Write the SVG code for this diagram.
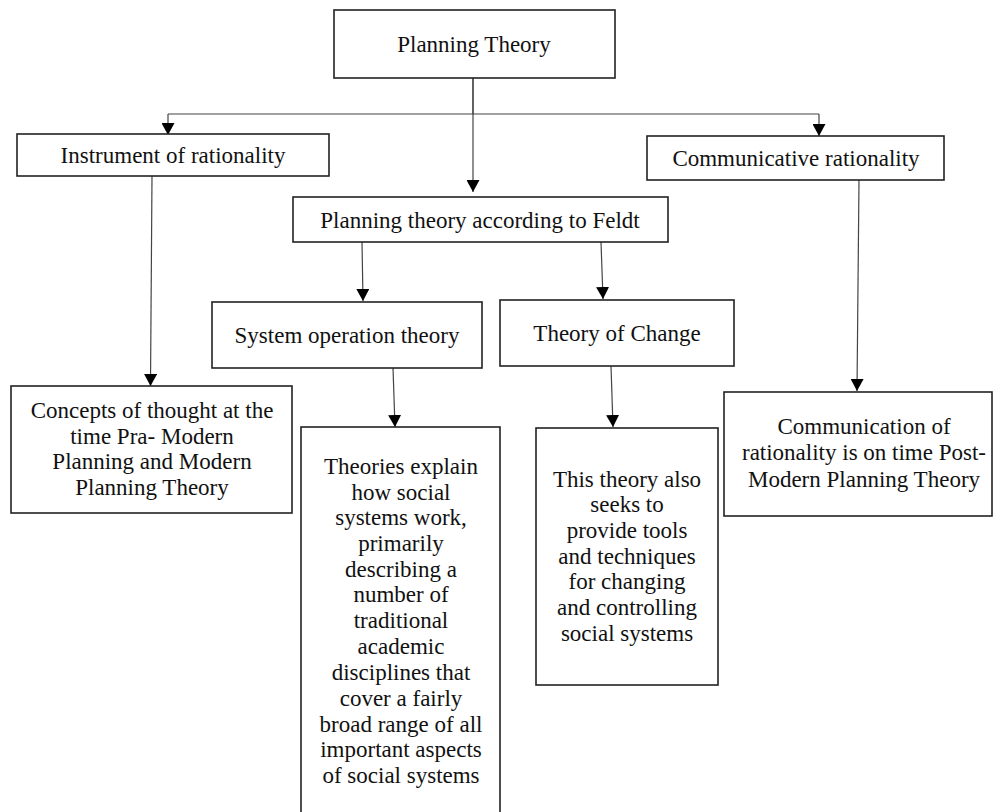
<svg xmlns="http://www.w3.org/2000/svg" width="993" height="812" viewBox="0 0 993 812">
<defs>
<marker id="ah" markerUnits="userSpaceOnUse" markerWidth="13" markerHeight="13" refX="12" refY="6.5" orient="auto">
<path d="M0,0 L12,6.5 L0,13 z" fill="#000"/>
</marker>
<style>
.box{fill:#fff;stroke:#222;stroke-width:1.6}
.t{font-family:'Liberation Serif','Times New Roman','DejaVu Serif',serif;font-size:23px;fill:#111;text-anchor:middle}
.c{fill:none;stroke:#444;stroke-width:1.2}
.a{marker-end:url(#ah)}
</style>
</defs>
<rect width="993" height="812" fill="#fff"/>
<g id="connectors">
<path class="c" d="M473,78 V114"/>
<path class="c" d="M168,114 H819"/>
<path class="c a" d="M168,114 V135"/>
<path class="c a" d="M819,114 V136"/>
<path class="c a" d="M473,78 V192"/>
<path class="c a" d="M152,176 L150.5,386"/>
<path class="c a" d="M362,242 L363,301"/>
<path class="c a" d="M601,242 L603,299"/>
<path class="c a" d="M393,368 L395,427"/>
<path class="c a" d="M611,366 L613,427"/>
<path class="c a" d="M859,180 L857,391"/>
</g>
<g id="planning-theory">
<rect class="box" x="334" y="10" width="281" height="68"/>
<text class="t" x="474" y="52">Planning Theory</text>
</g>
<g id="instrument">
<rect class="box" x="17" y="134" width="312" height="42"/>
<text class="t" x="173" y="163">Instrument of rationality</text>
</g>
<g id="communicative">
<rect class="box" x="647" y="136" width="297" height="44"/>
<text class="t" x="796" y="166">Communicative rationality</text>
</g>
<g id="feldt">
<rect class="box" x="293" y="197" width="375" height="45"/>
<text class="t" x="480" y="228">Planning theory according to Feldt</text>
</g>
<g id="system-operation">
<rect class="box" x="212" y="302" width="270" height="66"/>
<text class="t" x="347" y="343">System operation theory</text>
</g>
<g id="theory-change">
<rect class="box" x="500" y="300" width="234" height="66"/>
<text class="t" x="617" y="341">Theory of Change</text>
</g>
<g id="concepts">
<rect class="box" x="11" y="386" width="281" height="127"/>
<text class="t" x="152" y="418">Concepts of thought at the</text>
<text class="t" x="152" y="443.5">time Pra- Modern</text>
<text class="t" x="152" y="469">Planning and Modern</text>
<text class="t" x="152" y="495">Planning Theory</text>
</g>
<g id="theories">
<rect class="box" x="301" y="427" width="199" height="400"/>
<text class="t" x="401" y="473.5">Theories explain</text>
<text class="t" x="401" y="499.5">how social</text>
<text class="t" x="401" y="525">systems work,</text>
<text class="t" x="401" y="551">primarily</text>
<text class="t" x="401" y="577">describing a</text>
<text class="t" x="401" y="602">number of</text>
<text class="t" x="401" y="628">traditional</text>
<text class="t" x="401" y="654">academic</text>
<text class="t" x="401" y="680">disciplines that</text>
<text class="t" x="401" y="705.5">cover a fairly</text>
<text class="t" x="401" y="731.5">broad range of all</text>
<text class="t" x="401" y="757">important aspects</text>
<text class="t" x="401" y="782.5">of social systems</text>
</g>
<g id="this-theory">
<rect class="box" x="536" y="428" width="182" height="257"/>
<text class="t" x="627" y="486.5">This theory also</text>
<text class="t" x="627" y="512">seeks to</text>
<text class="t" x="627" y="538">provide tools</text>
<text class="t" x="627" y="563.5">and techniques</text>
<text class="t" x="627" y="589">for changing</text>
<text class="t" x="627" y="615">and controlling</text>
<text class="t" x="627" y="641">social systems</text>
</g>
<g id="communication">
<rect class="box" x="724" y="392" width="268" height="124"/>
<text class="t" x="864" y="434">Communication of</text>
<text class="t" x="864" y="460">rationality is on time Post-</text>
<text class="t" x="864" y="486.5">Modern Planning Theory</text>
</g>
</svg>
